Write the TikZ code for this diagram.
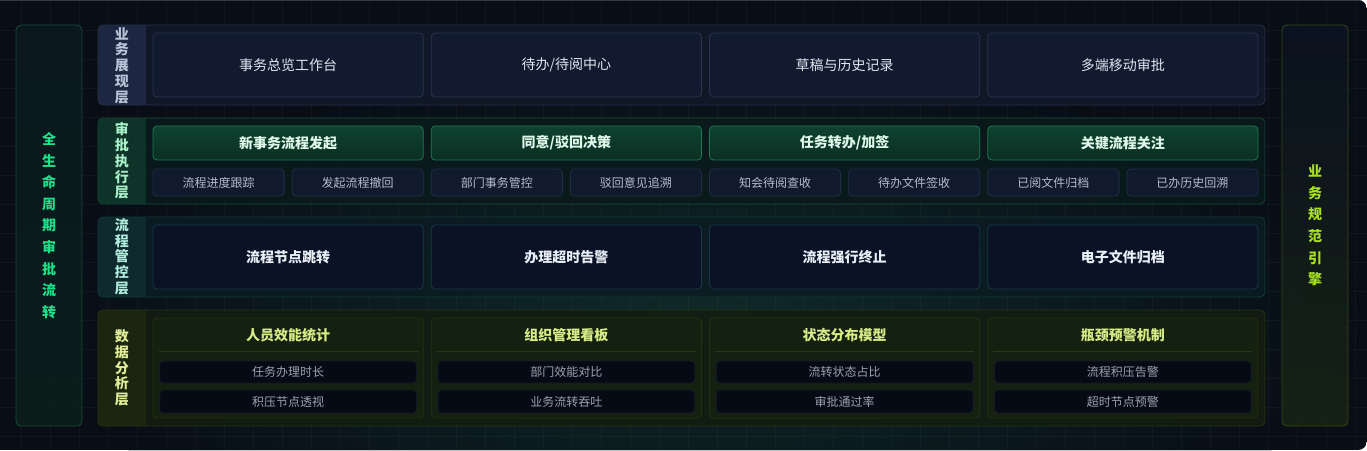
\documentclass[tikz,border=0pt]{standalone}
\usepackage{fontspec}
\setmainfont{Noto Sans CJK SC}
\definecolor{bgc}{HTML}{080D16}
\definecolor{glowc}{HTML}{0F2A28}
\definecolor{topline}{HTML}{343A48}
% layer 1
\definecolor{laA}{HTML}{111928}
\definecolor{lbA}{HTML}{263048}
\definecolor{llA}{HTML}{1D2741}
\definecolor{ltA}{HTML}{B9C4D8}
\definecolor{bfA}{HTML}{111A2E}
\definecolor{bbA}{HTML}{2A3550}
\definecolor{btA}{HTML}{DFE6F0}
% layer 2
\definecolor{laB}{HTML}{0A1A1B}
\definecolor{lbB}{HTML}{154532}
\definecolor{llB}{HTML}{0E3328}
\definecolor{ltB}{HTML}{A8F0C8}
\definecolor{gtopB}{HTML}{0E4230}
\definecolor{gbotB}{HTML}{0A2F23}
\definecolor{gbB}{HTML}{1B7A52}
\definecolor{gtB}{HTML}{DFF8EA}
\definecolor{sfB}{HTML}{101A2C}
\definecolor{sbB}{HTML}{222E46}
\definecolor{stB}{HTML}{B4BCCB}
% layer 3
\definecolor{laC}{HTML}{0B1C22}
\definecolor{lbC}{HTML}{133A3C}
\definecolor{llC}{HTML}{0E2A2E}
\definecolor{ltC}{HTML}{B0ECDC}
\definecolor{bfC}{HTML}{0B1226}
\definecolor{bbC}{HTML}{153A44}
\definecolor{btC}{HTML}{E8EEF5}
% layer 4
\definecolor{laD}{HTML}{121D12}
\definecolor{lbD}{HTML}{263512}
\definecolor{llD}{HTML}{1A2610}
\definecolor{ltD}{HTML}{E0EC98}
\definecolor{cfD}{HTML}{142010}
\definecolor{cbD}{HTML}{223210}
\definecolor{ctD}{HTML}{D6EC86}
\definecolor{dvD}{HTML}{283818}
\definecolor{sfD}{HTML}{060A14}
\definecolor{sbD}{HTML}{141C28}
\definecolor{stD}{HTML}{98A2B2}
% side panels
\definecolor{lpT}{HTML}{0B1A1E}
\definecolor{lpB}{HTML}{0C1E1C}
\definecolor{lpb}{HTML}{174A38}
\definecolor{lpt}{HTML}{1EE08A}
\definecolor{rpT}{HTML}{0B1220}
\definecolor{rpB}{HTML}{172414}
\definecolor{rpb}{HTML}{344A18}
\definecolor{rpt}{HTML}{A6E022}
\tikzset{
  box/.style={rectangle, rounded corners=4pt, inner sep=0pt, line width=0.8pt},
  outerbox/.style={box, rounded corners=5pt, minimum width=1167pt},
  vlabel/.style={align=center, inner sep=0pt, font=\fontsize{14}{15.7}\selectfont\bfseries},
  sidelabel/.style={align=center, inner sep=0pt, font=\fontsize{14}{21.6}\selectfont\bfseries},
  boxA/.style={box, fill=bfA, draw=bbA, text=btA, minimum width=270.25pt, minimum height=64pt, font=\fontsize{14}{16}\selectfont},
  topB/.style={box, top color=gtopB, bottom color=gbotB, draw=gbB, text=gtB, minimum width=270.25pt, minimum height=34pt, font=\fontsize{14}{16}\selectfont\bfseries},
  subB/.style={box, fill=sfB, draw=sbB, text=stB, minimum width=131.1pt, minimum height=27pt, font=\fontsize{12}{14}\selectfont},
  boxC/.style={box, fill=bfC, draw=bbC, text=btC, minimum width=270.25pt, minimum height=64pt, font=\fontsize{14}{16}\selectfont\bfseries},
  cardD/.style={box, fill=cfD, draw=cbD, minimum width=270.25pt, minimum height=100pt},
  titleD/.style={inner sep=0pt, text=ctD, font=\fontsize{14}{16}\selectfont\bfseries},
  subD/.style={box, fill=sfD, draw=sbD, text=stD, minimum width=257pt, font=\fontsize{12}{14}\selectfont},
}
\begin{document}
\begin{tikzpicture}[x=1pt,y=-1pt]
\useasboundingbox (0,0) rectangle (1367,450);
\fill[white] (0,0) rectangle (1367,450);
\begin{scope}
\clip[rounded corners=9pt] (-20,0) rectangle (1367,450);
\fill[bgc] (-20,0) rectangle (1367,450);
\fill[inner color=glowc, outer color=bgc] (700,320) ellipse (660 and 260);
\foreach \x in {21,50,...,1367} \draw[white, opacity=0.035, line width=0.8pt] (\x,0) -- (\x,450);
\foreach \y in {30,59,...,450} \draw[white, opacity=0.035, line width=0.8pt] (0,\y) -- (1367,\y);
\draw[topline, line width=1.2pt] (-20,0.6) -- (1367,0.6);
\end{scope}

% side panels
\node[box, rounded corners=5pt, top color=lpT, bottom color=lpB, draw=lpb, fill opacity=0.9, minimum width=66pt, minimum height=401pt] (leftp) at (49,225.5) {};
\node[sidelabel, text=lpt] (leftt) at (leftp.center) {全\\生\\命\\周\\期\\审\\批\\流\\转};
\node[box, rounded corners=5pt, top color=rpT, bottom color=rpB, draw=rpb, fill opacity=0.9, minimum width=66pt, minimum height=401pt] (rightp) at (1315,225.5) {};
\node[sidelabel, text=rpt] (rightt) at (rightp.center) {业\\务\\规\\范\\引\\擎};

% layer containers
\node[outerbox, fill=laA, fill opacity=0.9, minimum height=80pt] (L1) at (681.5,65) {};
\node[outerbox, fill=laB, fill opacity=0.9, minimum height=86pt] (L2) at (681.5,161) {};
\node[outerbox, fill=laC, fill opacity=0.9, minimum height=80pt] (L3) at (681.5,257) {};
\node[outerbox, fill=laD, fill opacity=0.9, minimum height=116pt] (L4) at (681.5,368) {};
% label columns
\begin{scope}
\clip[rounded corners=5pt] (98,25) rectangle (1265,105);
\fill[llA] (98,25) rectangle (145.5,105);
\end{scope}
\begin{scope}
\clip[rounded corners=5pt] (98,118) rectangle (1265,204);
\fill[llB] (98,118) rectangle (145.5,204);
\end{scope}
\begin{scope}
\clip[rounded corners=5pt] (98,217) rectangle (1265,297);
\fill[llC] (98,217) rectangle (145.5,297);
\end{scope}
\begin{scope}
\clip[rounded corners=5pt] (98,310) rectangle (1265,426);
\fill[llD] (98,310) rectangle (145.5,426);
\end{scope}
\draw[lbA, line width=0.8pt, rounded corners=5pt] (98,25) rectangle (1265,105);
\draw[lbB, line width=0.8pt, rounded corners=5pt] (98,118) rectangle (1265,204);
\draw[lbC, line width=0.8pt, rounded corners=5pt] (98,217) rectangle (1265,297);
\draw[lbD, line width=0.8pt, rounded corners=5pt] (98,310) rectangle (1265,426);

\node[vlabel, text=ltA] (L1t) at (121.75,65.5) {业\\务\\展\\现\\层};
\node[vlabel, text=ltB] (L2t) at (121.75,161) {审\\批\\执\\行\\层};
\node[vlabel, text=ltC] (L3t) at (121.75,256.5) {流\\程\\管\\控\\层};
\node[vlabel, text=ltD] (L4t) at (121.75,368) {数\\据\\分\\析\\层};

% layer 1
\foreach \i/\t in {0/{事务总览工作台}, 1/{待办/待阅中心}, 2/{草稿与历史记录}, 3/{多端移动审批}}
  \node[boxA] (a\i) at (288.125+278.25*\i,65) {\t};

% layer 2
\foreach \i/\t/\l/\r in {0/{新事务流程发起}/{流程进度跟踪}/{发起流程撤回}, 1/{同意/驳回决策}/{部门事务管控}/{驳回意见追溯}, 2/{任务转办/加签}/{知会待阅查收}/{待办文件签收}, 3/{关键流程关注}/{已阅文件归档}/{已办历史回溯}}{
  \node[topB] (b\i) at (288.125+278.25*\i,143) {\t};
  \node[subB] (b\i l) at (288.125+278.25*\i-69.575,182.5) {\l};
  \node[subB] (b\i r) at (288.125+278.25*\i+69.575,182.5) {\r};
}

% layer 3
\foreach \i/\t in {0/{流程节点跳转}, 1/{办理超时告警}, 2/{流程强行终止}, 3/{电子文件归档}}
  \node[boxC] (c\i) at (288.125+278.25*\i,257) {\t};

% layer 4
\foreach \i/\t/\p/\q in {0/{人员效能统计}/{任务办理时长}/{积压节点透视}, 1/{组织管理看板}/{部门效能对比}/{业务流转吞吐}, 2/{状态分布模型}/{流转状态占比}/{审批通过率}, 3/{瓶颈预警机制}/{流程积压告警}/{超时节点预警}}{
  \node[cardD] (d\i) at (288.125+278.25*\i,368) {};
  \node[titleD] (d\i t) at (288.125+278.25*\i,335) {\t};
  \draw[dvD, line width=0.8pt] ([xshift=6pt]d\i.west |- 0,351) -- ([xshift=-6pt]d\i.east |- 0,351);
  \node[subD, minimum height=22pt] (d\i p) at (288.125+278.25*\i,372) {\p};
  \node[subD, minimum height=23pt] (d\i q) at (288.125+278.25*\i,401.5) {\q};
}
\end{tikzpicture}
\end{document}
